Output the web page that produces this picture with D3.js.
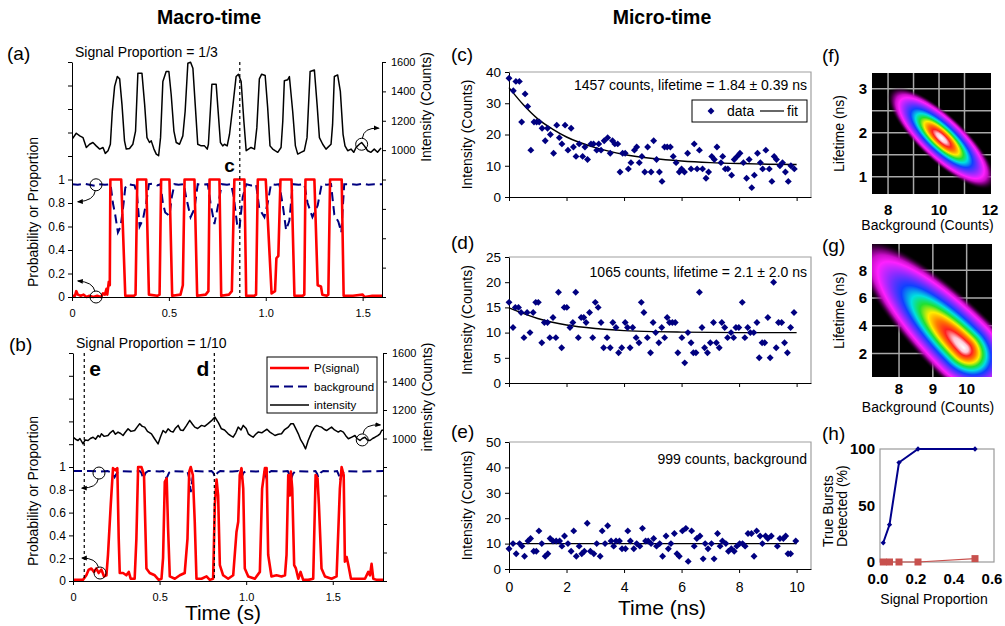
<!DOCTYPE html>
<html>
<head>
<meta charset="utf-8">
<script src="https://cdn.jsdelivr.net/npm/d3@7"></script>
<style>
  body { margin: 0; background: #fff; }
  svg { display: block; }
</style>
</head>
<body>
<svg id="chart" width="1005" height="626"></svg>
<script>
const FONT = "'Liberation Sans', Arial, Helvetica, sans-serif";

// ---- macro-time traces, [time (s), value] ----
const intensityA = [[0.000,1074],[0.022,1115],[0.040,1097],[0.057,1085],[0.074,1018],[0.091,1040],[0.108,1052],[0.125,1029],[0.143,1007],[0.160,1018],[0.172,978],[0.186,996],[0.198,1040],[0.208,1265],[0.220,1434],[0.234,1501],[0.246,1485],[0.258,1310],[0.271,1063],[0.280,1007],[0.297,1011],[0.314,1040],[0.328,1130],[0.340,1524],[0.361,1524],[0.375,1310],[0.387,1085],[0.400,1052],[0.409,1063],[0.423,1007],[0.435,973],[0.447,962],[0.457,1085],[0.469,1467],[0.486,1535],[0.500,1535],[0.512,1377],[0.526,1130],[0.538,1052],[0.555,1040],[0.572,1097],[0.584,1265],[0.598,1591],[0.612,1598],[0.624,1557],[0.636,1310],[0.649,1040],[0.667,1029],[0.684,1029],[0.698,1007],[0.704,1040],[0.722,1449],[0.744,1449],[0.753,1288],[0.766,1052],[0.778,1029],[0.787,1040],[0.801,1029],[0.813,1108],[0.830,1300],[0.847,1501],[0.859,1517],[0.873,1467],[0.887,1198],[0.899,996],[0.911,1007],[0.924,1018],[0.942,1007],[0.954,1153],[0.967,1485],[0.979,1517],[0.997,1508],[1.010,1288],[1.022,1029],[1.036,1007],[1.048,996],[1.062,985],[1.079,1018],[1.088,1198],[1.096,1472],[1.113,1479],[1.122,1501],[1.139,1265],[1.153,1029],[1.165,973],[1.182,985],[1.199,996],[1.213,1085],[1.229,1535],[1.251,1546],[1.265,1310],[1.277,1085],[1.294,1040],[1.311,1007],[1.337,1040],[1.345,1175],[1.354,1501],[1.371,1512],[1.385,1400],[1.399,1108],[1.409,1029],[1.423,996],[1.440,1007],[1.454,985],[1.466,1018],[1.483,1040],[1.495,1052],[1.509,1029],[1.526,996],[1.543,985],[1.560,1007],[1.577,985],[1.595,1014]];

const signalA = [[0.000,0.01],[0.015,0.01],[0.022,0.05],[0.030,0.02],[0.045,0.01],[0.060,0.02],[0.075,0.0],[0.090,0.01],[0.110,0.0],[0.130,0.01],[0.150,0.0],[0.160,0.03],[0.170,0.02],[0.178,0.07],[0.182,0.02],[0.190,0.13],[0.195,0.10],[0.198,1],[0.254,1],[0.275,0.01],[0.320,0.01],[0.328,0.02],[0.337,1],[0.383,1],[0.397,0.02],[0.440,0.01],[0.452,0.02],[0.460,1],[0.503,1],[0.517,0.01],[0.560,0.02],[0.572,0.10],[0.581,1],[0.632,1],[0.646,0.01],[0.690,0.02],[0.704,0.05],[0.710,1],[0.761,1],[0.770,0.01],[0.810,0.02],[0.825,0.05],[0.838,1],[0.890,1],[0.899,0.01],[0.940,0.01],[0.950,0.02],[0.959,1],[1.000,1],[1.030,0.03],[1.048,0.05],[1.055,0.33],[1.065,0.35],[1.076,1],[1.133,1],[1.148,0.01],[1.190,0.01],[1.199,0.02],[1.205,1],[1.251,1],[1.268,0.10],[1.285,0.09],[1.292,0.02],[1.315,0.01],[1.323,0.02],[1.332,1],[1.392,1],[1.402,0.01],[1.450,0.01],[1.500,0.02],[1.510,0.0],[1.550,0.01],[1.600,0.01]];

const backgroundA = [[0,0.96],[0.03,0.955],[0.06,0.965],[0.09,0.955],[0.12,0.945],[0.14,0.96],[0.17,0.955],[0.199,0.96],[0.211,0.8],[0.223,0.7],[0.237,0.55],[0.251,0.6],[0.263,0.75],[0.275,0.93],[0.289,0.96],[0.305,0.955],[0.323,0.95],[0.335,0.88],[0.349,0.6],[0.366,0.66],[0.383,0.8],[0.397,0.96],[0.42,0.965],[0.44,0.95],[0.457,0.96],[0.469,0.8],[0.481,0.72],[0.503,0.69],[0.515,0.85],[0.529,0.96],[0.55,0.955],[0.577,0.96],[0.589,0.85],[0.612,0.68],[0.632,0.75],[0.649,0.96],[0.675,0.955],[0.701,0.96],[0.715,0.8],[0.735,0.62],[0.756,0.8],[0.773,0.96],[0.8,0.955],[0.821,0.96],[0.835,0.85],[0.852,0.62],[0.864,0.58],[0.881,0.85],[0.899,0.96],[0.925,0.95],[0.95,0.96],[0.967,0.75],[0.993,0.68],[1.01,0.8],[1.027,0.96],[1.05,0.955],[1.07,0.96],[1.088,0.78],[1.105,0.57],[1.122,0.65],[1.139,0.96],[1.17,0.955],[1.199,0.96],[1.216,0.8],[1.241,0.68],[1.268,0.78],[1.289,0.96],[1.315,0.955],[1.337,0.96],[1.354,0.7],[1.375,0.64],[1.39,0.55],[1.405,0.96],[1.44,0.96],[1.47,0.955],[1.5,0.965],[1.53,0.955],[1.56,0.96],[1.6,0.96]];

const intensityB = [[0,1009],[0.015,995],[0.029,986],[0.04,1000],[0.058,962],[0.07,990],[0.087,986],[0.1,1000],[0.116,1009],[0.13,995],[0.145,1021],[0.155,1010],[0.164,1033],[0.18,1015],[0.202,1021],[0.215,1040],[0.231,1056],[0.245,1030],[0.26,1045],[0.275,1035],[0.289,1021],[0.3,1040],[0.318,1068],[0.335,1050],[0.356,1056],[0.37,1080],[0.385,1104],[0.4,1085],[0.414,1080],[0.43,1050],[0.453,1033],[0.47,1000],[0.491,962],[0.505,1010],[0.52,1056],[0.535,1040],[0.549,1068],[0.565,1050],[0.578,1045],[0.59,1070],[0.607,1092],[0.62,1060],[0.636,1056],[0.655,1090],[0.674,1127],[0.69,1100],[0.703,1080],[0.72,1070],[0.742,1092],[0.76,1085],[0.78,1104],[0.8,1125],[0.819,1151],[0.84,1110],[0.857,1068],[0.875,1060],[0.896,1033],[0.91,1020],[0.925,1009],[0.94,1040],[0.954,1080],[0.97,1060],[0.983,1092],[1.0,1070],[1.012,1033],[1.025,1020],[1.04,1009],[1.055,1030],[1.069,1045],[1.09,1040],[1.108,1056],[1.12,1065],[1.137,1045],[1.15,1035],[1.166,1021],[1.185,1030],[1.204,1033],[1.22,1060],[1.243,1080],[1.258,1104],[1.272,1104],[1.29,1060],[1.301,1033],[1.315,990],[1.329,962],[1.343,927],[1.358,986],[1.37,1020],[1.378,1045],[1.395,1080],[1.407,1092],[1.42,1085],[1.435,1080],[1.45,1065],[1.464,1056],[1.48,1070],[1.493,1080],[1.51,1060],[1.532,1045],[1.545,1055],[1.561,1045],[1.575,1020],[1.59,998],[1.61,1010],[1.628,1021],[1.64,1000],[1.657,986],[1.67,1000],[1.686,1009],[1.70,990],[1.715,986],[1.73,1000],[1.744,1009],[1.76,1020],[1.773,1033],[1.782,1056],[1.79,1060]];

const signalB = [[0,0.01],[0.029,0.01],[0.058,0.01],[0.077,0.05],[0.091,0.10],[0.106,0.11],[0.121,0.08],[0.135,0.11],[0.148,0.07],[0.164,0.10],[0.179,0.04],[0.193,0.05],[0.202,0.23],[0.218,0.67],[0.231,0.99],[0.245,0.97],[0.256,0.99],[0.264,0.37],[0.270,0.07],[0.289,0.07],[0.308,0.05],[0.322,0.08],[0.333,0.02],[0.356,0.02],[0.366,0.37],[0.376,1.0],[0.395,1.0],[0.410,0.93],[0.424,0.11],[0.443,0.07],[0.472,0.05],[0.495,0.01],[0.511,0.02],[0.520,0.20],[0.530,0.87],[0.541,0.90],[0.549,0.46],[0.559,0.04],[0.588,0.02],[0.617,0.05],[0.645,0.07],[0.661,0.37],[0.671,0.96],[0.680,1.0],[0.692,0.93],[0.703,0.52],[0.713,0.02],[0.742,0.02],[0.771,0.04],[0.790,0.01],[0.809,0.02],[0.819,0.67],[0.829,0.89],[0.838,0.75],[0.848,0.14],[0.867,0.05],[0.896,0.02],[0.925,0.05],[0.944,0.43],[0.954,0.52],[0.963,0.93],[0.973,0.99],[0.983,0.81],[0.992,0.11],[1.012,0.04],[1.050,0.02],[1.079,0.08],[1.092,0.81],[1.108,0.99],[1.118,0.99],[1.127,0.23],[1.146,0.04],[1.175,0.05],[1.204,0.04],[1.224,0.05],[1.233,0.23],[1.243,0.93],[1.252,0.75],[1.258,0.96],[1.266,0.81],[1.277,0.14],[1.287,0.11],[1.301,0.02],[1.314,0.08],[1.329,0.01],[1.358,0.01],[1.387,0.02],[1.401,0.93],[1.412,0.90],[1.420,0.67],[1.435,0.11],[1.455,0.04],[1.493,0.02],[1.522,0.04],[1.541,0.81],[1.551,1.0],[1.563,0.93],[1.570,0.17],[1.580,0.21],[1.590,0.14],[1.605,0.02],[1.647,0.02],[1.686,0.02],[1.705,0.08],[1.715,0.05],[1.724,0.15],[1.734,0.02],[1.753,0.01],[1.792,0.01]];

const backgroundB = [[0,0.965],[0.1,0.965],[0.15,0.96],[0.2,0.965],[0.225,0.95],[0.24,0.91],[0.255,0.95],[0.27,0.965],[0.33,0.96],[0.385,0.965],[0.395,0.95],[0.405,0.9],[0.42,0.95],[0.435,0.965],[0.5,0.96],[0.52,0.965],[0.53,0.95],[0.54,0.9],[0.555,0.95],[0.57,0.965],[0.63,0.96],[0.66,0.965],[0.672,0.9],[0.68,0.78],[0.69,0.9],[0.70,0.965],[0.77,0.96],[0.8,0.965],[0.81,0.95],[0.82,0.91],[0.835,0.95],[0.85,0.965],[0.92,0.96],[0.955,0.965],[0.965,0.94],[0.973,0.91],[0.985,0.95],[1.0,0.965],[1.06,0.96],[1.1,0.965],[1.11,0.94],[1.118,0.9],[1.13,0.95],[1.145,0.965],[1.2,0.96],[1.24,0.965],[1.25,0.93],[1.258,0.89],[1.27,0.94],[1.285,0.965],[1.35,0.96],[1.4,0.965],[1.41,0.94],[1.416,0.91],[1.43,0.95],[1.445,0.965],[1.5,0.96],[1.525,0.965],[1.535,0.93],[1.541,0.88],[1.555,0.94],[1.57,0.965],[1.65,0.96],[1.79,0.965]];

// dashed time markers and circled spots [time, value, which axis]
const markersA = [["c", 0.866]];
const markersB = [["e", 0.065], ["d", 0.816]];
const circlesA = [[0.124, 0.955, "p"], [0.124, 0, "p"], [1.495, 1040, "i"]];
const circlesB = [[0.150, 0.947, "p"], [0.156, 0.07, "p"], [1.670, 990, "i"]];

// ---- micro-time decays, [time (ns), counts] ----
const decayC = [[0.0,38],[0.15,34],[0.24,37],[0.36,37],[0.44,24],[0.56,33],[0.65,29],[0.76,15],[0.87,24],[0.96,24],[1.05,24],[1.15,22],[1.26,18],[1.34,22],[1.44,20],[1.55,14],[1.66,23],[1.75,19],[1.84,17],[1.95,23],[2.05,15],[2.16,22],[2.24,16],[2.33,13],[2.44,17],[2.56,13],[2.64,16],[2.73,12],[2.85,17],[2.94,17],[3.05,15],[3.12,17],[3.2,15],[3.31,18],[3.43,19],[3.52,14],[3.6,18],[3.68,17],[3.78,17],[3.86,8],[3.95,14],[4.04,14],[4.15,9],[4.24,11],[4.36,15],[4.44,16],[4.53,11],[4.62,13],[4.72,8],[4.82,16],[4.94,8],[5.03,18],[5.13,12],[5.23,8],[5.32,5],[5.41,16],[5.5,16],[5.61,16],[5.71,13],[5.81,11],[5.92,8],[6.0,9],[6.1,8],[6.21,14],[6.33,9],[6.44,17],[6.54,9],[6.62,15],[6.73,9],[6.85,6],[6.94,8],[7.05,13],[7.14,12],[7.23,16],[7.37,11],[7.43,13],[7.52,9],[7.61,9],[7.74,7],[7.83,12],[7.93,13],[8.03,14],[8.15,11],[8.26,6],[8.35,12],[8.44,3],[8.53,7],[8.64,14],[8.74,11],[8.82,9],[8.93,15],[9.05,9],[9.14,5],[9.22,13],[9.3,12],[9.42,10],[9.51,11],[9.61,8],[9.71,5],[9.8,10],[9.92,9]];
const fitC = [[0,35],[0.5,29.5],[1,25],[1.5,21.8],[2,19.2],[3,15.8],[4,13.6],[5,12.3],[6,11.5],[7,11.0],[8,10.7],[9,10.5],[10,10.4]];

const decayD = [[0,16],[0.14,11],[0.22,15],[0.33,15],[0.42,14],[0.52,9],[0.63,14],[0.73,10],[0.84,14],[0.93,16],[1.02,16],[1.14,8],[1.23,12],[1.34,12],[1.42,9],[1.53,13],[1.63,9],[1.72,18],[1.83,7],[1.92,15],[2.01,15],[2.12,11],[2.22,12],[2.32,18],[2.41,9],[2.51,13],[2.6,13],[2.68,12],[2.8,14],[2.91,9],[3.0,16],[3.1,15],[3.2,12],[3.29,7],[3.41,9],[3.52,7],[3.61,12],[3.72,11],[3.81,6],[3.92,7],[4.04,12],[4.12,11],[4.21,7],[4.3,11],[4.42,9],[4.52,8],[4.6,16],[4.69,14],[4.81,9],[4.92,6],[5.01,12],[5.1,10],[5.21,8],[5.31,11],[5.41,9],[5.5,13],[5.58,12],[5.68,12],[5.78,12],[5.87,6],[6.01,9],[6.11,4],[6.22,10],[6.33,8],[6.41,6],[6.5,6],[6.62,18],[6.71,11],[6.8,7],[6.9,6],[7.0,8],[7.11,12],[7.21,8],[7.31,7],[7.4,12],[7.5,11],[7.6,9],[7.72,10],[7.81,9],[7.89,11],[7.99,11],[8.11,16],[8.2,9],[8.3,11],[8.39,10],[8.51,10],[8.62,12],[8.7,5],[8.8,8],[8.89,8],[9.0,13],[9.08,5],[9.2,20],[9.29,7],[9.37,12],[9.48,12],[9.58,8],[9.68,6],[9.79,11],[9.91,14]];
const fitD = [[0,14.9],[1,12.8],[2,11.5],[3,10.8],[4,10.4],[5,10.2],[6,10.1],[8,10.0],[10,10.0]];

const decayE = [[0,8],[0.14,10],[0.25,6],[0.37,10],[0.45,9],[0.54,5],[0.66,11],[0.75,12],[0.86,7],[0.95,7],[1.04,15],[1.14,10],[1.26,5],[1.35,6],[1.43,12],[1.53,11],[1.64,11],[1.76,11],[1.84,9],[1.93,13],[2.05,10],[2.16,7],[2.25,15],[2.34,5],[2.44,9],[2.53,6],[2.62,7],[2.72,18],[2.83,7],[2.95,6],[3.05,10],[3.17,5],[3.24,15],[3.34,10],[3.43,17],[3.55,11],[3.64,9],[3.72,11],[3.84,11],[3.93,8],[4.05,8],[4.13,15],[4.22,11],[4.34,8],[4.44,10],[4.55,9],[4.64,16],[4.75,11],[4.84,11],[4.94,10],[5.03,12],[5.13,9],[5.24,10],[5.34,5],[5.46,13],[5.54,8],[5.63,10],[5.75,14],[5.84,6],[5.92,5],[6.03,15],[6.15,16],[6.23,3],[6.35,15],[6.44,9],[6.53,12],[6.64,13],[6.75,4],[6.82,10],[6.92,8],[7.04,10],[7.13,4],[7.25,14],[7.34,9],[7.42,11],[7.54,10],[7.63,7],[7.73,8],[7.83,7],[7.92,9],[8.02,10],[8.12,10],[8.21,9],[8.31,14],[8.43,14],[8.52,5],[8.61,15],[8.73,13],[8.81,10],[8.92,13],[9.0,12],[9.12,13],[9.33,9],[9.42,12],[9.54,12],[9.62,13],[9.7,6],[9.79,6],[9.97,11]];
const fitE = [[0,10],[10,10]];

// ---- posterior maps: [centre background, centre lifetime, lifetime unit, spread up-left, spread down-right, spread across] ----
const mapF = [10.1, 1.88, 0.55, 0.88, 0.88, 0.29];
const mapG = [9.92, 2.4, 2.44, 1.37, 0.5, 0.35];

// ---- (h) detection ----
const hProportion = [0.017, 0.05, 0.1, 0.2, 0.5];
const hTrue = [17, 33, 88, 100, 100];
const hFalse = [0, 0, 0, 0, 3];

// ================= drawing =================
const svg = d3.select("#chart");
const defs = svg.append("defs");
defs.append("marker").attr("id", "arrow")
  .attr("viewBox", "0 0 10 10").attr("refX", 8).attr("refY", 5)
  .attr("markerWidth", 6).attr("markerHeight", 6).attr("orient", "auto")
  .append("path").attr("d", "M0,1 L10,5 L0,9 Z").attr("fill", "#000");

function label(x, y, s, size, o = {}) {
  const t = svg.append("text").attr("x", x).attr("y", y).text(s)
    .attr("font-family", FONT).attr("font-size", size).attr("fill", "#000");
  if (o.anchor) t.attr("text-anchor", o.anchor);
  if (o.bold) t.attr("font-weight", "bold");
  if (o.rot) t.attr("transform", `rotate(-90,${x},${y})`);
  if (o.dy) t.attr("dy", o.dy);
  return t;
}

function tidy(g, size, bold) {
  g.attr("font-family", FONT).attr("font-size", size);
  g.select(".domain").attr("stroke", "#000");
  g.selectAll(".tick line").attr("stroke", "#000");
  g.selectAll(".tick text").attr("fill", "#000").attr("font-weight", bold ? "bold" : null);
}

// ---------- macro-time panels ----------
function drawMacro(cfg) {
  const x = d3.scaleLinear([0, cfg.tMax], [cfg.left, cfg.right]);
  const yP = d3.scaleLinear([0, 2], [cfg.bottom, cfg.top]);
  const yI = d3.scaleLinear([0, 1600], [cfg.bottom, cfg.top]);

  defs.append("clipPath").attr("id", "clip" + cfg.id).append("rect")
    .attr("x", cfg.left).attr("y", cfg.top - 4)
    .attr("width", cfg.right - cfg.left).attr("height", cfg.bottom - cfg.top + 6);
  const plot = svg.append("g").attr("clip-path", `url(#clip${cfg.id})`);

  const lineP = d3.line().x(d => x(d[0])).y(d => yP(d[1]));
  const lineI = d3.line().x(d => x(d[0])).y(d => yI(d[1]));

  plot.append("path").datum(cfg.background).attr("d", lineP)
    .attr("fill", "none").attr("stroke", "#00007f").attr("stroke-width", 2)
    .attr("stroke-dasharray", "9,5");
  plot.append("path").datum(cfg.signal).attr("d", lineP)
    .attr("fill", "none").attr("stroke", "#ff0000").attr("stroke-width", 2.6)
    .attr("stroke-linejoin", "round");
  plot.append("path").datum(cfg.intensity).attr("d", lineI)
    .attr("fill", "none").attr("stroke", "#000").attr("stroke-width", 1.5)
    .attr("stroke-linejoin", "round");

  // axes
  const gl = svg.append("g").attr("transform", `translate(${cfg.left},0)`)
    .call(d3.axisLeft(yP).tickValues(d3.range(0, 2.01, 0.2)).tickSize(4).tickSizeOuter(0).tickPadding(3)
      .tickFormat(d => d > 1.01 ? "" : (d < 0.01 ? "0" : d > 0.99 ? "1" : d3.format(".1f")(d))));
  tidy(gl, 12);
  const gr = svg.append("g").attr("transform", `translate(${cfg.right},0)`)
    .call(d3.axisRight(yI).tickValues(d3.range(0, 1601, 200)).tickSize(4).tickSizeOuter(0).tickPadding(5)
      .tickFormat(d => d >= 1000 ? d : ""));
  tidy(gr, 11);
  const gb = svg.append("g").attr("transform", `translate(0,${cfg.bottom})`)
    .call(d3.axisBottom(x).tickValues([0, 0.5, 1, 1.5]).tickSize(4).tickSizeOuter(0).tickPadding(8)
      .tickFormat(d => d === 0 ? "0" : d.toFixed(1)));
  tidy(gb, 11);

  // dashed markers
  cfg.markers.forEach(([name, t], i) => {
    svg.append("line").attr("x1", x(t)).attr("x2", x(t)).attr("y1", cfg.top).attr("y2", cfg.bottom)
      .attr("stroke", "#000").attr("stroke-width", 1.2).attr("stroke-dasharray", "3,3");
    const side = cfg.markerSide[i];
    label(x(t) + side * 5, cfg.markerY, name, cfg.markerSize, { bold: true, anchor: side < 0 ? "end" : "start" });
  });

  // circled spots with arrows
  cfg.circles.forEach(([t, v, ax], i) => {
    const cx = x(t), cy = ax === "p" ? yP(v) : yI(v);
    const [qx, qy, ex, ey] = cfg.arrows[i];
    svg.append("circle").attr("cx", cx).attr("cy", cy).attr("r", 6)
      .attr("fill", "none").attr("stroke", "#000").attr("stroke-width", 1);
    const len = Math.hypot(qx, qy);
    const sx = cx + qx / len * 6, sy = cy + qy / len * 6;
    svg.append("path").attr("d", `M${sx},${sy} Q${cx + qx},${cy + qy} ${cx + ex},${cy + ey}`)
      .attr("fill", "none").attr("stroke", "#000").attr("stroke-width", 1)
      .attr("marker-end", "url(#arrow)");
  });

  // texts
  label(cfg.letterX, cfg.top - 2, cfg.letter, 19);
  label(cfg.left + 3, cfg.top - 5, cfg.title, 14);
  label(33, cfg.probLabelY, "Probability or Proportion", 14, { rot: true, anchor: "middle", dy: "0.35em" });
  label(cfg.right + 44, cfg.intLabelY, cfg.intLabel, 14, { rot: true, anchor: "middle", dy: "0.35em" });
  return { x, yP, yI };
}

drawMacro({
  id: "A", left: 72, right: 382, top: 62, bottom: 297, tMax: 1.6,
  intensity: intensityA, signal: signalA, background: backgroundA,
  markers: markersA, markerSide: [-1], markerY: 172, markerSize: 19,
  circles: circlesA,
  arrows: [[-2, 16, -18, 17], [-3, -15, -18, -16], [2, -17, 17, -16]],
  letter: "(a)", letterX: 7, title: "Signal Proportion = 1/3",
  intLabel: "Intensity (Counts)", intLabelY: 107, probLabelY: 212
});

drawMacro({
  id: "B", left: 73, right: 383, top: 353, bottom: 581, tMax: 1.79,
  intensity: intensityB, signal: signalB, background: backgroundB,
  markers: markersB, markerSide: [1, -1], markerY: 376, markerSize: 21,
  circles: circlesB,
  arrows: [[-2, 15, -17, 15], [-4, -15, -18, -15], [2, -16, 18, -15]],
  letter: "(b)", letterX: 9, title: "Signal Proportion = 1/10",
  intLabel: "intensity (Counts)", intLabelY: 397, probLabelY: 491
});

// legend in (b)
{
  const lg = svg.append("g").attr("transform", "translate(267,357)");
  lg.append("rect").attr("width", 110).attr("height", 56).attr("fill", "#fff")
    .attr("stroke", "#000").attr("stroke-width", 1);
  const items = [["P(signal)", "#ff0000", null, 2.6], ["background", "#00007f", "9,5", 2], ["intensity", "#000", null, 1.5]];
  items.forEach(([name, col, dash, w], i) => {
    const yy = 11 + i * 18.5;
    lg.append("line").attr("x1", 3).attr("x2", 42).attr("y1", yy).attr("y2", yy)
      .attr("stroke", col).attr("stroke-width", w).attr("stroke-dasharray", dash);
    lg.append("text").attr("x", 47).attr("y", yy).attr("dy", "0.35em").text(name)
      .attr("font-family", FONT).attr("font-size", 11.5).attr("fill", "#000");
  });
}

label(209, 24, "Macro-time", 19.5, { bold: true, anchor: "middle" });
label(223, 620, "Time (s)", 21, { anchor: "middle" });

// ---------- micro-time panels ----------
const xMicro = d3.scaleLinear([0, 10.5], [509, 811]);
function drawMicro(cfg) {
  const x = xMicro;
  const y = d3.scaleLinear([0, cfg.yMax], [cfg.bottom, cfg.top]);
  svg.append("path").attr("d", `M${x(0)},${cfg.top}H${x(10.5)}V${cfg.bottom}`)
    .attr("fill", "none").attr("stroke", "#a0a0a0").attr("stroke-width", 1.2);
  const gb = svg.append("g").attr("transform", `translate(0,${cfg.bottom})`)
    .call(d3.axisBottom(x).tickValues(d3.range(0, 10.1, 2)).tickSize(4).tickSizeOuter(0).tickPadding(9)
      .tickFormat(cfg.xLabels ? d3.format("d") : () => ""));
  tidy(gb, 14);
  const gl = svg.append("g").attr("transform", `translate(${x(0)},0)`)
    .call(d3.axisLeft(y).tickValues(d3.range(0, cfg.yMax + 0.1, cfg.yStep)).tickSize(4).tickSizeOuter(0).tickPadding(4));
  tidy(gl, 13.5);

  svg.append("path").datum(cfg.fit)
    .attr("d", d3.line().curve(d3.curveMonotoneX).x(d => x(d[0])).y(d => y(d[1])))
    .attr("fill", "none").attr("stroke", "#000").attr("stroke-width", 1.4);

  const diamond = d3.symbol(d3.symbolSquare, 24);
  svg.append("g").selectAll("path").data(cfg.points).join("path")
    .attr("d", diamond)
    .attr("transform", d => `translate(${x(d[0])},${y(d[1])}) rotate(45)`)
    .attr("fill", "#000080");

  label(807, cfg.noteY, cfg.note, 14, { anchor: "end" });
  label(451, cfg.letterY, cfg.letter, 19);
  label(467, (cfg.top + cfg.bottom) / 2, "Intensity (Counts)", 14, { rot: true, anchor: "middle", dy: "0.35em" });
  return { x, y };
}

drawMicro({ top: 72, bottom: 197, yMax: 40, yStep: 10, points: decayC, fit: fitC,
  note: "1457 counts, lifetime = 1.84 \u00b1 0.39 ns", noteY: 90, letter: "(c)", letterY: 61 });
drawMicro({ top: 257, bottom: 383, yMax: 25, yStep: 5, points: decayD, fit: fitD,
  note: "1065 counts, lifetime = 2.1 \u00b1 2.0 ns", noteY: 277, letter: "(d)", letterY: 249 });
drawMicro({ top: 442, bottom: 569, yMax: 50, yStep: 10, points: decayE, fit: fitE, xLabels: true,
  note: "999 counts, background", noteY: 464, letter: "(e)", letterY: 438 });

// legend in (c)
{
  const lg = svg.append("g").attr("transform", "translate(692,100)");
  lg.append("rect").attr("width", 115).attr("height", 22).attr("fill", "#fff")
    .attr("stroke", "#000").attr("stroke-width", 1);
  lg.append("path").attr("d", d3.symbol(d3.symbolSquare, 24))
    .attr("transform", "translate(19,11) rotate(45)").attr("fill", "#000080");
  lg.append("text").attr("x", 35).attr("y", 11).attr("dy", "0.35em").text("data")
    .attr("font-family", FONT).attr("font-size", 14);
  lg.append("line").attr("x1", 68).attr("x2", 92).attr("y1", 11).attr("y2", 11)
    .attr("stroke", "#000").attr("stroke-width", 1.2);
  lg.append("text").attr("x", 95).attr("y", 11).attr("dy", "0.35em").text("fit")
    .attr("font-family", FONT).attr("font-size", 14);
}

label(662, 24, "Micro-time", 19.5, { bold: true, anchor: "middle" });
label(662, 615, "Time (ns)", 21, { anchor: "middle" });

// ---------- posterior maps ----------
const mapStops = [0, 0.3, 0.55, 0.8, 1.05, 1.3, 1.55, 1.85, 2.2, 2.55, 2.9, 3.25];
const mapColours = ["#ffffff", "#ffc8d8", "#ff2020", "#ff7a00", "#ffee00", "#20e030", "#00e0e0", "#1040ff", "#8a2cff", "#ff20ff", "#a000a0", "#000000"];
const cmap = d3.scaleLinear().domain(mapStops).range(mapColours).clamp(true);

function drawMap(cfg) {
  const x = d3.scaleLinear(cfg.xDomain, [cfg.left, cfg.right]);
  const y = d3.scaleLinear(cfg.yDomain, [cfg.bottom, cfg.top]);
  const w = cfg.right - cfg.left, h = cfg.bottom - cfg.top;
  svg.append("rect").attr("x", cfg.left).attr("y", cfg.top).attr("width", w).attr("height", h).attr("fill", "#000");
  const grid = svg.append("g").attr("stroke", "#a8a8a8").attr("stroke-width", 1.5);
  cfg.gridX.forEach(v => grid.append("line").attr("x1", x(v)).attr("x2", x(v)).attr("y1", cfg.top).attr("y2", cfg.bottom));
  cfg.gridY.forEach(v => grid.append("line").attr("y1", y(v)).attr("y2", y(v)).attr("x1", cfg.left).attr("x2", cfg.right));

  const [cx, cy, unit, saUp, saDown, sb] = cfg.model;
  const canvas = document.createElement("canvas");
  canvas.width = w; canvas.height = h;
  const ctx = canvas.getContext("2d");
  const img = ctx.createImageData(w, h);
  for (let j = 0; j < h; j++) {
    for (let i = 0; i < w; i++) {
      const X = x.invert(cfg.left + i + 0.5) - cx;
      const Y = (y.invert(cfg.top + j + 0.5) - cy) / unit;
      const a = (Y - X) / Math.SQRT2, b = (X + Y) / Math.SQRT2;
      const sa = a > 0 ? saUp : saDown;
      const m = Math.hypot(a / sa, b / sb);
      const c = d3.rgb(cmap(m));
      const k = (j * w + i) * 4;
      img.data[k] = c.r; img.data[k + 1] = c.g; img.data[k + 2] = c.b;
      img.data[k + 3] = m < 2.75 ? 255 : Math.max(0, Math.round(255 * (3.25 - m) / 0.5));
    }
  }
  ctx.putImageData(img, 0, 0);
  svg.append("image").attr("x", cfg.left).attr("y", cfg.top).attr("width", w).attr("height", h)
    .attr("href", canvas.toDataURL());

  cfg.xTicks.forEach(v => label(x(v), cfg.bottom + cfg.xTickGap, v, 15, { anchor: "middle", bold: true }));
  cfg.yTicks.forEach(v => label(867, y(v), v, 15, { anchor: "end", bold: true, dy: "0.35em" }));
  label(cfg.left + w / 2 - 4, cfg.bottom + cfg.xTitleGap, "Background (Counts)", 14, { anchor: "middle" });
  label(839, (cfg.top + cfg.bottom) / 2, "Lifetime (ns)", 14, { rot: true, anchor: "middle", dy: "0.35em" });
  label(822, cfg.letterY, cfg.letter, 19);
}

drawMap({ left: 872, right: 991, top: 73, bottom: 194, xDomain: [7.37, 12.04], yDomain: [0.61, 3.36],
  model: mapF, gridX: [8, 9, 10, 11], gridY: [1, 1.5, 2, 2.5, 3],
  xTicks: [8, 10, 12], yTicks: [1, 2, 3], xTickGap: 21, xTitleGap: 36, letter: "(f)", letterY: 62 });
drawMap({ left: 872, right: 992, top: 244, bottom: 377, xDomain: [7.2, 10.75], yDomain: [0.3, 9.9],
  model: mapG, gridX: [8, 9, 10], gridY: [2, 4, 6, 8],
  xTicks: [8, 9, 10], yTicks: [2, 4, 6, 8], xTickGap: 17, xTitleGap: 35, letter: "(g)", letterY: 252 });

// ---------- (h) ----------
{
  const x = d3.scaleLinear([0, 0.6], [880, 994]);
  const y = d3.scaleLinear([0, 100], [562, 449]);
  svg.append("rect").attr("x", 880).attr("y", 449).attr("width", 114).attr("height", 113)
    .attr("fill", "#fff").attr("stroke", "#9a9a9a").attr("stroke-width", 1.2);
  const trueRows = hProportion.map((p, i) => [p, hTrue[i]]);
  const falseRows = hProportion.map((p, i) => [p, hFalse[i]]);
  const line = d3.line().x(d => x(d[0])).y(d => y(d[1]));
  svg.append("path").datum(falseRows).attr("d", line).attr("fill", "none")
    .attr("stroke", "#c8504d").attr("stroke-width", 1.2);
  svg.append("g").selectAll("rect").data(falseRows).join("rect")
    .attr("x", d => x(d[0]) - 3.5).attr("y", d => y(d[1]) - 3.5).attr("width", 7).attr("height", 7)
    .attr("fill", "#c8504d");
  svg.append("path").datum(trueRows).attr("d", line).attr("fill", "none")
    .attr("stroke", "#00008b").attr("stroke-width", 2);
  svg.append("g").selectAll("path").data(trueRows).join("path")
    .attr("d", d3.symbol(d3.symbolSquare, 14))
    .attr("transform", d => `translate(${x(d[0])},${y(d[1])}) rotate(45)`)
    .attr("fill", "#00008b");
  [0, 50, 100].forEach(v => label(875, y(v), v, 15, { anchor: "end", bold: true, dy: "0.35em" }));
  [0, 0.2, 0.4, 0.6].forEach(v => label(x(v) - 2, 584, v.toFixed(1), 15, { anchor: "middle", bold: true }));
  label(934, 604, "Signal Proportion", 14, { anchor: "middle" });
  label(833, 547, "True Bursts", 14, { rot: true });
  label(847, 547, "Detected  (%)", 14, { rot: true });
  label(822, 440, "(h)", 19);
}
</script>
</body>
</html>
